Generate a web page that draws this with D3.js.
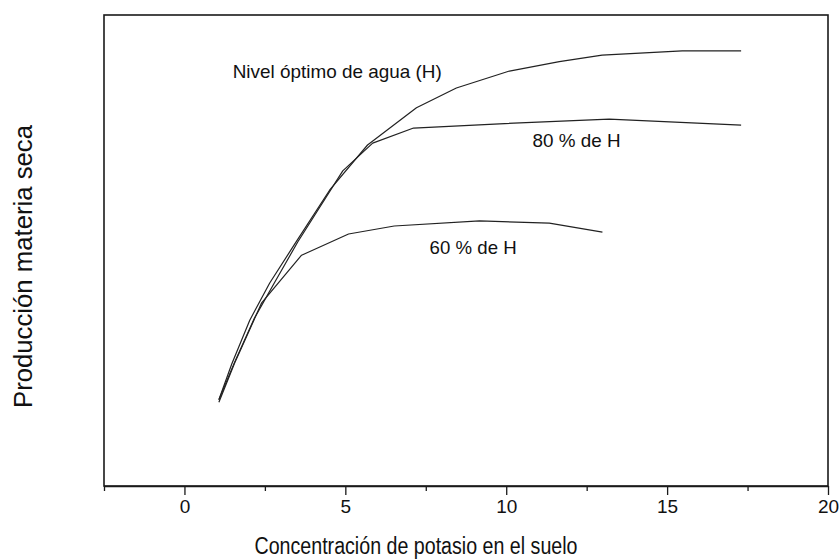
<!DOCTYPE html>
<html>
<head>
<meta charset="utf-8">
<script src="https://cdn.jsdelivr.net/npm/d3@7"></script>
<style>
  html, body { margin: 0; padding: 0; background: #fff; }
  svg text { font-family: "Liberation Sans", Arial, sans-serif; fill: #111; }
</style>
</head>
<body>
<svg id="chart" width="839" height="560"></svg>
<script>
// ---- data ----
const xTicks = [0, 5, 10, 15, 20];
const xMinorTicks = [-2.5, 2.5, 7.5, 12.5, 17.5];

const optimoX = [1.07, 1.47, 2.03, 2.65, 3.43, 4.51, 5.69, 7.21, 8.45, 10.1, 11.65, 12.98, 15.47, 17.3];
const optimoY = [18.3, 25.9, 35.2, 43.1, 51.4, 62.8, 72.4, 80.3, 84.5, 88.1, 90.1, 91.5, 92.4, 92.4];

const h80X = [1.07, 1.56, 2.18, 2.81, 3.52, 4.92, 5.85, 7.12, 9.79, 13.2, 17.3];
const h80Y = [18.3, 26.3, 35.7, 43.3, 51.8, 66.9, 72.8, 76.0, 76.9, 77.9, 76.6];

const h60X = [1.07, 1.56, 2.40, 3.64, 5.10, 6.52, 9.17, 11.34, 12.99];
const h60Y = [17.8, 26.1, 38.9, 49.0, 53.5, 55.2, 56.3, 55.8, 53.9];

const seriesNames = ["Nivel óptimo de agua (H)", "80 % de H", "60 % de H"];
const xTitle = "Concentración de potasio en el suelo";
const yTitle = "Producción materia seca";

// ---- layout ----
const svg = d3.select("#chart");
const mLeft = 104, mRight = 828, mTop = 15, mBottom = 486;

const x = d3.scaleLinear().domain([-2.5, 20]).range([mLeft, mRight]);
const y = d3.scaleLinear().domain([0, 100]).range([mBottom, mTop]);

// frame
svg.append("rect")
  .attr("x", mLeft).attr("y", mTop)
  .attr("width", mRight - mLeft).attr("height", mBottom - mTop)
  .attr("fill", "none").attr("stroke", "#1a1a1a").attr("stroke-width", 1.6);

// x axis: major ticks
const axisMajor = d3.axisBottom(x).tickValues(xTicks).tickSize(9).tickSizeOuter(0)
  .tickFormat(d3.format("d"));
const gx = svg.append("g").attr("transform", `translate(0,${mBottom})`).call(axisMajor);
gx.select(".domain").attr("stroke", "#1a1a1a").attr("stroke-width", 1.6);
gx.selectAll(".tick line").attr("stroke", "#1a1a1a").attr("stroke-width", 1.3);
gx.selectAll(".tick text")
  .attr("font-size", 19).attr("dy", null).attr("y", 27)
  .style("font-family", '"Liberation Sans", Arial, sans-serif').attr("fill", "#111");

// minor ticks
const axisMinor = d3.axisBottom(x).tickValues(xMinorTicks).tickSize(5).tickFormat("");
const gxm = svg.append("g").attr("transform", `translate(0,${mBottom})`).call(axisMinor);
gxm.select(".domain").remove();
gxm.selectAll(".tick line").attr("stroke", "#1a1a1a").attr("stroke-width", 1.3);

// curves
const line = d3.line().x(d => x(d[0])).y(d => y(d[1]));
const series = [
  d3.zip(optimoX, optimoY),
  d3.zip(h80X, h80Y),
  d3.zip(h60X, h60Y)
];
svg.append("g").selectAll("path").data(series).join("path")
  .attr("d", line)
  .attr("fill", "none")
  .attr("stroke", "#222")
  .attr("stroke-width", 1.2)
  .attr("stroke-linejoin", "round");

// curve labels
const labelPos = [[1.5, 86.6, 209], [10.82, 72.0, 88], [7.62, 49.3, 87]];
svg.append("g").selectAll("text").data(seriesNames).join("text")
  .attr("x", (d, i) => x(labelPos[i][0]))
  .attr("y", (d, i) => y(labelPos[i][1]))
  .attr("font-size", 18.5)
  .attr("textLength", (d, i) => labelPos[i][2])
  .attr("lengthAdjust", "spacingAndGlyphs")
  .text(d => d);

// axis titles
svg.append("text")
  .attr("x", 416)
  .attr("y", 554)
  .attr("text-anchor", "middle")
  .attr("font-size", 23)
  .attr("textLength", 323)
  .attr("lengthAdjust", "spacingAndGlyphs")
  .text(xTitle);

svg.append("text")
  .attr("transform", `translate(32,${(mTop + mBottom) / 2 + 16}) rotate(-90)`)
  .attr("text-anchor", "middle")
  .attr("font-size", 25)
  .attr("textLength", 283)
  .attr("lengthAdjust", "spacingAndGlyphs")
  .text(yTitle);
</script>
</body>
</html>
